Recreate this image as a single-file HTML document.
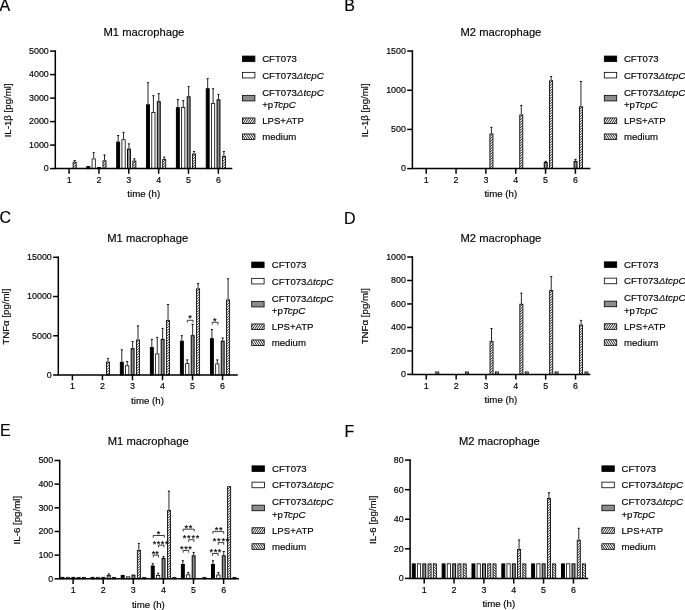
<!DOCTYPE html>
<html><head><meta charset="utf-8"><title>Figure</title>
<style>html,body{margin:0;padding:0;background:#fff}svg{display:block;will-change:transform}text{font-family:"Liberation Sans", Arial, sans-serif;fill:#000;stroke:#000;stroke-width:.16px}</style>
</head><body>
<svg width="685" height="610" viewBox="0 0 685 610">
<defs>
</defs>
<rect width="685" height="610" fill="#fff"/>
<g id="panel-A">
<path d="M74.65 161.70V160.20M73.55 160.50H75.75" stroke="#000" stroke-width="0.85" fill="none"/>
<rect x="73.12" y="162.20" width="3.05" height="6.40" fill="#fff"/>
<path d="M73.12 164.80L76.17 162.21M73.12 167.40L76.17 164.81M74.77 168.60L76.17 167.41" stroke="#000" stroke-width="0.85" fill="none"/>
<rect x="73.12" y="162.20" width="3.05" height="6.40" fill="none" stroke="#000" stroke-width="0.85"/>
<rect x="86.85" y="166.60" width="2.90" height="2.00" fill="#000" stroke="#000" stroke-width="1.0"/>
<path d="M93.70 158.50V152.40M92.60 152.70H94.80" stroke="#000" stroke-width="0.85" fill="none"/>
<rect x="92.07" y="158.90" width="3.25" height="9.70" fill="#fff" stroke="#000" stroke-width="0.8"/>
<rect x="97.65" y="167.50" width="2.90" height="1.10" fill="#8c8c8c" stroke="#000" stroke-width="1.0"/>
<path d="M104.50 160.30V154.70M103.40 155.00H105.60" stroke="#000" stroke-width="0.85" fill="none"/>
<rect x="102.97" y="160.80" width="3.05" height="7.80" fill="#fff"/>
<path d="M102.97 163.40L106.02 160.81M102.97 166.00L106.02 163.41M102.98 168.60L106.02 166.01" stroke="#000" stroke-width="0.85" fill="none"/>
<rect x="102.97" y="160.80" width="3.05" height="7.80" fill="none" stroke="#000" stroke-width="0.85"/>
<path d="M118.15 141.60V135.20M117.05 135.50H119.25" stroke="#000" stroke-width="0.85" fill="none"/>
<rect x="116.70" y="142.10" width="2.90" height="26.50" fill="#000" stroke="#000" stroke-width="1.0"/>
<path d="M123.55 139.30V132.00M122.45 132.30H124.65" stroke="#000" stroke-width="0.85" fill="none"/>
<rect x="121.93" y="139.70" width="3.25" height="28.90" fill="#fff" stroke="#000" stroke-width="0.8"/>
<path d="M128.95 148.60V143.60M127.85 143.90H130.05" stroke="#000" stroke-width="0.85" fill="none"/>
<rect x="127.50" y="149.10" width="2.90" height="19.50" fill="#8c8c8c" stroke="#000" stroke-width="1.0"/>
<path d="M134.35 160.60V158.50M133.25 158.80H135.45" stroke="#000" stroke-width="0.85" fill="none"/>
<rect x="132.83" y="161.10" width="3.05" height="7.50" fill="#fff"/>
<path d="M132.83 163.70L135.88 161.11M132.83 166.30L135.88 163.71M133.18 168.60L135.88 166.31" stroke="#000" stroke-width="0.85" fill="none"/>
<rect x="132.83" y="161.10" width="3.05" height="7.50" fill="none" stroke="#000" stroke-width="0.85"/>
<path d="M148.00 104.30V82.40M146.90 82.70H149.10" stroke="#000" stroke-width="0.85" fill="none"/>
<rect x="146.55" y="104.80" width="2.90" height="63.80" fill="#000" stroke="#000" stroke-width="1.0"/>
<path d="M153.40 112.00V95.40M152.30 95.70H154.50" stroke="#000" stroke-width="0.85" fill="none"/>
<rect x="151.78" y="112.40" width="3.25" height="56.20" fill="#fff" stroke="#000" stroke-width="0.8"/>
<path d="M158.80 101.20V93.40M157.70 93.70H159.90" stroke="#000" stroke-width="0.85" fill="none"/>
<rect x="157.35" y="101.70" width="2.90" height="66.90" fill="#8c8c8c" stroke="#000" stroke-width="1.0"/>
<path d="M164.20 159.10V156.80M163.10 157.10H165.30" stroke="#000" stroke-width="0.85" fill="none"/>
<rect x="162.68" y="159.60" width="3.05" height="9.00" fill="#fff"/>
<path d="M162.68 162.20L165.73 159.61M162.68 164.80L165.73 162.21M162.68 167.40L165.73 164.81M164.32 168.60L165.73 167.41" stroke="#000" stroke-width="0.85" fill="none"/>
<rect x="162.68" y="159.60" width="3.05" height="9.00" fill="none" stroke="#000" stroke-width="0.85"/>
<path d="M177.85 107.20V99.30M176.75 99.60H178.95" stroke="#000" stroke-width="0.85" fill="none"/>
<rect x="176.40" y="107.70" width="2.90" height="60.90" fill="#000" stroke="#000" stroke-width="1.0"/>
<path d="M183.25 107.10V100.40M182.15 100.70H184.35" stroke="#000" stroke-width="0.85" fill="none"/>
<rect x="181.62" y="107.50" width="3.25" height="61.10" fill="#fff" stroke="#000" stroke-width="0.8"/>
<path d="M188.65 96.30V86.30M187.55 86.60H189.75" stroke="#000" stroke-width="0.85" fill="none"/>
<rect x="187.20" y="96.80" width="2.90" height="71.80" fill="#8c8c8c" stroke="#000" stroke-width="1.0"/>
<path d="M194.05 153.60V151.20M192.95 151.50H195.15" stroke="#000" stroke-width="0.85" fill="none"/>
<rect x="192.53" y="154.10" width="3.05" height="14.50" fill="#fff"/>
<path d="M192.53 156.70L195.58 154.11M192.53 159.30L195.58 156.71M192.53 161.90L195.58 159.31M192.53 164.50L195.58 161.91M192.53 167.10L195.58 164.51M193.82 168.60L195.58 167.11" stroke="#000" stroke-width="0.85" fill="none"/>
<rect x="192.53" y="154.10" width="3.05" height="14.50" fill="none" stroke="#000" stroke-width="0.85"/>
<path d="M207.70 88.20V78.40M206.60 78.70H208.80" stroke="#000" stroke-width="0.85" fill="none"/>
<rect x="206.25" y="88.70" width="2.90" height="79.90" fill="#000" stroke="#000" stroke-width="1.0"/>
<path d="M213.10 103.20V88.40M212.00 88.70H214.20" stroke="#000" stroke-width="0.85" fill="none"/>
<rect x="211.47" y="103.60" width="3.25" height="65.00" fill="#fff" stroke="#000" stroke-width="0.8"/>
<path d="M218.50 99.30V94.10M217.40 94.40H219.60" stroke="#000" stroke-width="0.85" fill="none"/>
<rect x="217.05" y="99.80" width="2.90" height="68.80" fill="#8c8c8c" stroke="#000" stroke-width="1.0"/>
<path d="M223.90 155.90V151.20M222.80 151.50H225.00" stroke="#000" stroke-width="0.85" fill="none"/>
<rect x="222.38" y="156.40" width="3.05" height="12.20" fill="#fff"/>
<path d="M222.38 159.00L225.43 156.41M222.38 161.60L225.43 159.01M222.38 164.20L225.43 161.61M222.38 166.80L225.43 164.21M223.32 168.60L225.43 166.81" stroke="#000" stroke-width="0.85" fill="none"/>
<rect x="222.38" y="156.40" width="3.05" height="12.20" fill="none" stroke="#000" stroke-width="0.85"/>
<path d="M55.30 50.35V168.60H232.30" stroke="#000" stroke-width="1.5" fill="none" stroke-linejoin="miter"/>
<path d="M50.10 168.60H55.30" stroke="#000" stroke-width="1.5"/>
<text x="48.80" y="171.45" font-size="8.9" text-anchor="end" >0</text>
<path d="M50.10 145.10H55.30" stroke="#000" stroke-width="1.5"/>
<text x="48.80" y="147.95" font-size="8.9" text-anchor="end" >1000</text>
<path d="M50.10 121.60H55.30" stroke="#000" stroke-width="1.5"/>
<text x="48.80" y="124.45" font-size="8.9" text-anchor="end" >2000</text>
<path d="M50.10 98.10H55.30" stroke="#000" stroke-width="1.5"/>
<text x="48.80" y="100.95" font-size="8.9" text-anchor="end" >3000</text>
<path d="M50.10 74.60H55.30" stroke="#000" stroke-width="1.5"/>
<text x="48.80" y="77.45" font-size="8.9" text-anchor="end" >4000</text>
<path d="M50.10 51.10H55.30" stroke="#000" stroke-width="1.5"/>
<text x="48.80" y="53.95" font-size="8.9" text-anchor="end" >5000</text>
<path d="M69.10 168.60V173.80" stroke="#000" stroke-width="1.5"/>
<text x="69.10" y="182.90" font-size="8.9" text-anchor="middle" >1</text>
<path d="M98.95 168.60V173.80" stroke="#000" stroke-width="1.5"/>
<text x="98.95" y="182.90" font-size="8.9" text-anchor="middle" >2</text>
<path d="M128.80 168.60V173.80" stroke="#000" stroke-width="1.5"/>
<text x="128.80" y="182.90" font-size="8.9" text-anchor="middle" >3</text>
<path d="M158.65 168.60V173.80" stroke="#000" stroke-width="1.5"/>
<text x="158.65" y="182.90" font-size="8.9" text-anchor="middle" >4</text>
<path d="M188.50 168.60V173.80" stroke="#000" stroke-width="1.5"/>
<text x="188.50" y="182.90" font-size="8.9" text-anchor="middle" >5</text>
<path d="M218.35 168.60V173.80" stroke="#000" stroke-width="1.5"/>
<text x="218.35" y="182.90" font-size="8.9" text-anchor="middle" >6</text>
<text x="143.72" y="197.30" font-size="9.7" text-anchor="middle" >time (h)</text>
<text x="103.50" y="35.90" font-size="11.2" text-anchor="start" >M1 macrophage</text>
<text transform="translate(11.20 110.35) rotate(-90)" font-size="9.7" text-anchor="middle">IL-1β [pg/ml]</text>
<text x="-0.60" y="10.90" font-size="16" text-anchor="start" >A</text>
<rect x="242.50" y="56.05" width="12.4" height="5.6" fill="#000" stroke="#000" stroke-width="0.8"/>
<rect x="242.50" y="72.35" width="12.4" height="5.6" fill="#fff" stroke="#000" stroke-width="0.8"/>
<rect x="242.50" y="95.35" width="12.4" height="5.6" fill="#8c8c8c" stroke="#000" stroke-width="0.8"/>
<rect x="242.50" y="117.95" width="12.4" height="5.6" fill="#fff"/>
<path d="M242.50 120.77L244.38 117.95M242.93 123.55L246.66 117.95M245.21 123.55L248.94 117.95M247.49 123.55L251.22 117.95M249.77 123.55L253.50 117.95M252.05 123.55L254.90 119.27M254.33 123.55L254.90 122.69" stroke="#000" stroke-width="0.85" fill="none"/>
<rect x="242.50" y="117.95" width="12.4" height="5.6" fill="none" stroke="#000" stroke-width="0.8"/>
<rect x="242.50" y="133.95" width="12.4" height="5.6" fill="#fff"/>
<path d="M254.90 136.77L253.02 133.95M254.47 139.55L250.74 133.95M252.19 139.55L248.46 133.95M249.91 139.55L246.18 133.95M247.63 139.55L243.90 133.95M245.35 139.55L242.50 135.27M243.07 139.55L242.50 138.69" stroke="#000" stroke-width="0.85" fill="none"/>
<rect x="242.50" y="133.95" width="12.4" height="5.6" fill="none" stroke="#000" stroke-width="0.8"/>
<text x="262.20" y="62.20" font-size="9.6" text-anchor="start" >CFT073</text>
<text x="262.20" y="78.50" font-size="9.6" text-anchor="start" >CFT073<tspan font-style="italic" font-size="9.9"><tspan fill="#444">Δ</tspan>tcpC</tspan></text>
<text x="262.20" y="95.50" font-size="9.6" text-anchor="start" >CFT073<tspan font-style="italic" font-size="9.9"><tspan fill="#444">Δ</tspan>tcpC</tspan></text>
<text x="262.20" y="107.70" font-size="9.6" text-anchor="start" >+p<tspan font-style="italic" font-size="9.9">TcpC</tspan></text>
<text x="262.20" y="124.10" font-size="9.6" text-anchor="start" >LPS+ATP</text>
<text x="262.20" y="140.10" font-size="9.6" text-anchor="start" >medium</text>
</g>
<g id="panel-B">
<path d="M491.43 133.40V127.00M490.33 127.30H492.53" stroke="#000" stroke-width="0.85" fill="none"/>
<rect x="489.90" y="133.90" width="3.05" height="34.70" fill="#fff"/>
<path d="M489.90 136.50L492.95 133.91M489.90 139.10L492.95 136.51M489.90 141.70L492.95 139.11M489.90 144.30L492.95 141.71M489.90 146.90L492.95 144.31M489.90 149.50L492.95 146.91M489.90 152.10L492.95 149.51M489.90 154.70L492.95 152.11M489.90 157.30L492.95 154.71M489.90 159.90L492.95 157.31M489.90 162.50L492.95 159.91M489.90 165.10L492.95 162.51M489.90 167.70L492.95 165.11M491.90 168.60L492.95 167.71" stroke="#000" stroke-width="0.85" fill="none"/>
<rect x="489.90" y="133.90" width="3.05" height="34.70" fill="none" stroke="#000" stroke-width="0.85"/>
<path d="M521.27 114.50V105.10M520.17 105.40H522.37" stroke="#000" stroke-width="0.85" fill="none"/>
<rect x="519.75" y="115.00" width="3.05" height="53.60" fill="#fff"/>
<path d="M519.75 117.60L522.79 115.01M519.75 120.20L522.79 117.61M519.75 122.80L522.79 120.21M519.75 125.40L522.79 122.81M519.75 128.00L522.79 125.41M519.75 130.60L522.79 128.01M519.75 133.20L522.79 130.61M519.75 135.80L522.79 133.21M519.75 138.40L522.79 135.81M519.75 141.00L522.79 138.41M519.75 143.60L522.79 141.01M519.75 146.20L522.79 143.61M519.75 148.80L522.79 146.21M519.75 151.40L522.79 148.81M519.75 154.00L522.79 151.41M519.75 156.60L522.79 154.01M519.75 159.20L522.79 156.61M519.75 161.80L522.79 159.21M519.75 164.40L522.79 161.81M519.75 167.00L522.79 164.41M520.92 168.60L522.79 167.01" stroke="#000" stroke-width="0.85" fill="none"/>
<rect x="519.75" y="115.00" width="3.05" height="53.60" fill="none" stroke="#000" stroke-width="0.85"/>
<path d="M545.71 162.00V161.00M544.61 161.30H546.81" stroke="#000" stroke-width="0.85" fill="none"/>
<rect x="544.26" y="162.50" width="2.90" height="6.10" fill="#8c8c8c" stroke="#000" stroke-width="1.0"/>
<path d="M551.11 80.30V76.20M550.01 76.50H552.21" stroke="#000" stroke-width="0.85" fill="none"/>
<rect x="549.58" y="80.80" width="3.05" height="87.80" fill="#fff"/>
<path d="M549.58 83.40L552.63 80.81M549.58 86.00L552.63 83.41M549.58 88.60L552.63 86.01M549.58 91.20L552.63 88.61M549.58 93.80L552.63 91.21M549.58 96.40L552.63 93.81M549.58 99.00L552.63 96.41M549.58 101.60L552.63 99.01M549.58 104.20L552.63 101.61M549.58 106.80L552.63 104.21M549.58 109.40L552.63 106.81M549.58 112.00L552.63 109.41M549.58 114.60L552.63 112.01M549.58 117.20L552.63 114.61M549.58 119.80L552.63 117.21M549.58 122.40L552.63 119.81M549.58 125.00L552.63 122.41M549.58 127.60L552.63 125.01M549.58 130.20L552.63 127.61M549.58 132.80L552.63 130.21M549.58 135.40L552.63 132.81M549.58 138.00L552.63 135.41M549.58 140.60L552.63 138.01M549.58 143.20L552.63 140.61M549.58 145.80L552.63 143.21M549.58 148.40L552.63 145.81M549.58 151.00L552.63 148.41M549.58 153.60L552.63 151.01M549.58 156.20L552.63 153.61M549.58 158.80L552.63 156.21M549.58 161.40L552.63 158.81M549.58 164.00L552.63 161.41M549.58 166.60L552.63 164.01M550.29 168.60L552.63 166.61" stroke="#000" stroke-width="0.85" fill="none"/>
<rect x="549.58" y="80.80" width="3.05" height="87.80" fill="none" stroke="#000" stroke-width="0.85"/>
<path d="M575.55 160.90V159.10M574.45 159.40H576.65" stroke="#000" stroke-width="0.85" fill="none"/>
<rect x="574.10" y="161.40" width="2.90" height="7.20" fill="#8c8c8c" stroke="#000" stroke-width="1.0"/>
<path d="M580.95 106.30V81.20M579.85 81.50H582.05" stroke="#000" stroke-width="0.85" fill="none"/>
<rect x="579.42" y="106.80" width="3.05" height="61.80" fill="#fff"/>
<path d="M579.42 109.40L582.47 106.81M579.42 112.00L582.47 109.41M579.42 114.60L582.47 112.01M579.42 117.20L582.47 114.61M579.42 119.80L582.47 117.21M579.42 122.40L582.47 119.81M579.42 125.00L582.47 122.41M579.42 127.60L582.47 125.01M579.42 130.20L582.47 127.61M579.42 132.80L582.47 130.21M579.42 135.40L582.47 132.81M579.42 138.00L582.47 135.41M579.42 140.60L582.47 138.01M579.42 143.20L582.47 140.61M579.42 145.80L582.47 143.21M579.42 148.40L582.47 145.81M579.42 151.00L582.47 148.41M579.42 153.60L582.47 151.01M579.42 156.20L582.47 153.61M579.42 158.80L582.47 156.21M579.42 161.40L582.47 158.81M579.42 164.00L582.47 161.41M579.42 166.60L582.47 164.01M580.13 168.60L582.47 166.61" stroke="#000" stroke-width="0.85" fill="none"/>
<rect x="579.42" y="106.80" width="3.05" height="61.80" fill="none" stroke="#000" stroke-width="0.85"/>
<path d="M412.40 50.35V168.60H590.40" stroke="#000" stroke-width="1.5" fill="none" stroke-linejoin="miter"/>
<path d="M407.20 168.60H412.40" stroke="#000" stroke-width="1.5"/>
<text x="405.90" y="171.45" font-size="8.9" text-anchor="end" >0</text>
<path d="M407.20 129.43H412.40" stroke="#000" stroke-width="1.5"/>
<text x="405.90" y="132.28" font-size="8.9" text-anchor="end" >500</text>
<path d="M407.20 90.27H412.40" stroke="#000" stroke-width="1.5"/>
<text x="405.90" y="93.12" font-size="8.9" text-anchor="end" >1000</text>
<path d="M407.20 51.10H412.40" stroke="#000" stroke-width="1.5"/>
<text x="405.90" y="53.95" font-size="8.9" text-anchor="end" >1500</text>
<path d="M426.20 168.60V173.80" stroke="#000" stroke-width="1.5"/>
<text x="426.20" y="182.90" font-size="8.9" text-anchor="middle" >1</text>
<path d="M456.04 168.60V173.80" stroke="#000" stroke-width="1.5"/>
<text x="456.04" y="182.90" font-size="8.9" text-anchor="middle" >2</text>
<path d="M485.88 168.60V173.80" stroke="#000" stroke-width="1.5"/>
<text x="485.88" y="182.90" font-size="8.9" text-anchor="middle" >3</text>
<path d="M515.72 168.60V173.80" stroke="#000" stroke-width="1.5"/>
<text x="515.72" y="182.90" font-size="8.9" text-anchor="middle" >4</text>
<path d="M545.56 168.60V173.80" stroke="#000" stroke-width="1.5"/>
<text x="545.56" y="182.90" font-size="8.9" text-anchor="middle" >5</text>
<path d="M575.40 168.60V173.80" stroke="#000" stroke-width="1.5"/>
<text x="575.40" y="182.90" font-size="8.9" text-anchor="middle" >6</text>
<text x="500.80" y="197.30" font-size="9.7" text-anchor="middle" >time (h)</text>
<text x="460.50" y="35.90" font-size="11.2" text-anchor="start" >M2 macrophage</text>
<text transform="translate(368.10 110.35) rotate(-90)" font-size="9.7" text-anchor="middle">IL-1β [pg/ml]</text>
<text x="344.20" y="11.00" font-size="16" text-anchor="start" >B</text>
<rect x="604.30" y="56.05" width="12.4" height="5.6" fill="#000" stroke="#000" stroke-width="0.8"/>
<rect x="604.30" y="72.35" width="12.4" height="5.6" fill="#fff" stroke="#000" stroke-width="0.8"/>
<rect x="604.30" y="95.35" width="12.4" height="5.6" fill="#8c8c8c" stroke="#000" stroke-width="0.8"/>
<rect x="604.30" y="117.95" width="12.4" height="5.6" fill="#fff"/>
<path d="M604.30 120.77L606.18 117.95M604.73 123.55L608.46 117.95M607.01 123.55L610.74 117.95M609.29 123.55L613.02 117.95M611.57 123.55L615.30 117.95M613.85 123.55L616.70 119.27M616.13 123.55L616.70 122.69" stroke="#000" stroke-width="0.85" fill="none"/>
<rect x="604.30" y="117.95" width="12.4" height="5.6" fill="none" stroke="#000" stroke-width="0.8"/>
<rect x="604.30" y="133.95" width="12.4" height="5.6" fill="#fff"/>
<path d="M616.70 136.77L614.82 133.95M616.27 139.55L612.54 133.95M613.99 139.55L610.26 133.95M611.71 139.55L607.98 133.95M609.43 139.55L605.70 133.95M607.15 139.55L604.30 135.27M604.87 139.55L604.30 138.69" stroke="#000" stroke-width="0.85" fill="none"/>
<rect x="604.30" y="133.95" width="12.4" height="5.6" fill="none" stroke="#000" stroke-width="0.8"/>
<text x="623.90" y="62.20" font-size="9.6" text-anchor="start" >CFT073</text>
<text x="623.90" y="78.50" font-size="9.6" text-anchor="start" >CFT073<tspan font-style="italic" font-size="9.9"><tspan fill="#444">Δ</tspan>tcpC</tspan></text>
<text x="623.90" y="95.50" font-size="9.6" text-anchor="start" >CFT073<tspan font-style="italic" font-size="9.9"><tspan fill="#444">Δ</tspan>tcpC</tspan></text>
<text x="623.90" y="107.70" font-size="9.6" text-anchor="start" >+p<tspan font-style="italic" font-size="9.9">TcpC</tspan></text>
<text x="623.90" y="124.10" font-size="9.6" text-anchor="start" >LPS+ATP</text>
<text x="623.90" y="140.10" font-size="9.6" text-anchor="start" >medium</text>
</g>
<g id="panel-C">
<path d="M107.98 361.60V358.30M106.88 358.60H109.08" stroke="#000" stroke-width="0.85" fill="none"/>
<rect x="106.46" y="362.10" width="3.05" height="12.90" fill="#fff"/>
<path d="M106.46 364.70L109.51 362.11M106.46 367.30L109.51 364.71M106.46 369.90L109.51 367.31M106.46 372.50L109.51 369.91M106.57 375.00L109.51 372.51" stroke="#000" stroke-width="0.85" fill="none"/>
<rect x="106.46" y="362.10" width="3.05" height="12.90" fill="none" stroke="#000" stroke-width="0.85"/>
<path d="M121.81 361.80V349.50M120.71 349.80H122.91" stroke="#000" stroke-width="0.85" fill="none"/>
<rect x="120.36" y="362.30" width="2.90" height="12.70" fill="#000" stroke="#000" stroke-width="1.0"/>
<path d="M127.21 365.40V361.20M126.11 361.50H128.31" stroke="#000" stroke-width="0.85" fill="none"/>
<rect x="125.59" y="365.80" width="3.25" height="9.20" fill="#fff" stroke="#000" stroke-width="0.8"/>
<path d="M132.61 348.20V341.30M131.51 341.60H133.71" stroke="#000" stroke-width="0.85" fill="none"/>
<rect x="131.16" y="348.70" width="2.90" height="26.30" fill="#8c8c8c" stroke="#000" stroke-width="1.0"/>
<path d="M138.01 339.50V325.60M136.91 325.90H139.11" stroke="#000" stroke-width="0.85" fill="none"/>
<rect x="136.49" y="340.00" width="3.05" height="35.00" fill="#fff"/>
<path d="M136.49 342.60L139.54 340.01M136.49 345.20L139.54 342.61M136.49 347.80L139.54 345.21M136.49 350.40L139.54 347.81M136.49 353.00L139.54 350.41M136.49 355.60L139.54 353.01M136.49 358.20L139.54 355.61M136.49 360.80L139.54 358.21M136.49 363.40L139.54 360.81M136.49 366.00L139.54 363.41M136.49 368.60L139.54 366.01M136.49 371.20L139.54 368.61M136.49 373.80L139.54 371.21M138.13 375.00L139.54 373.81" stroke="#000" stroke-width="0.85" fill="none"/>
<rect x="136.49" y="340.00" width="3.05" height="35.00" fill="none" stroke="#000" stroke-width="0.85"/>
<path d="M151.84 347.10V339.10M150.74 339.40H152.94" stroke="#000" stroke-width="0.85" fill="none"/>
<rect x="150.39" y="347.60" width="2.90" height="27.40" fill="#000" stroke="#000" stroke-width="1.0"/>
<path d="M157.24 353.50V337.10M156.14 337.40H158.34" stroke="#000" stroke-width="0.85" fill="none"/>
<rect x="155.62" y="353.90" width="3.25" height="21.10" fill="#fff" stroke="#000" stroke-width="0.8"/>
<path d="M162.64 338.90V328.10M161.54 328.40H163.74" stroke="#000" stroke-width="0.85" fill="none"/>
<rect x="161.19" y="339.40" width="2.90" height="35.60" fill="#8c8c8c" stroke="#000" stroke-width="1.0"/>
<path d="M168.04 320.10V304.20M166.94 304.50H169.14" stroke="#000" stroke-width="0.85" fill="none"/>
<rect x="166.52" y="320.60" width="3.05" height="54.40" fill="#fff"/>
<path d="M166.52 323.20L169.57 320.61M166.52 325.80L169.57 323.21M166.52 328.40L169.57 325.81M166.52 331.00L169.57 328.41M166.52 333.60L169.57 331.01M166.52 336.20L169.57 333.61M166.52 338.80L169.57 336.21M166.52 341.40L169.57 338.81M166.52 344.00L169.57 341.41M166.52 346.60L169.57 344.01M166.52 349.20L169.57 346.61M166.52 351.80L169.57 349.21M166.52 354.40L169.57 351.81M166.52 357.00L169.57 354.41M166.52 359.60L169.57 357.01M166.52 362.20L169.57 359.61M166.52 364.80L169.57 362.21M166.52 367.40L169.57 364.81M166.52 370.00L169.57 367.41M166.52 372.60L169.57 370.01M166.75 375.00L169.57 372.61" stroke="#000" stroke-width="0.85" fill="none"/>
<rect x="166.52" y="320.60" width="3.05" height="54.40" fill="none" stroke="#000" stroke-width="0.85"/>
<path d="M181.87 340.70V335.40M180.77 335.70H182.97" stroke="#000" stroke-width="0.85" fill="none"/>
<rect x="180.42" y="341.20" width="2.90" height="33.80" fill="#000" stroke="#000" stroke-width="1.0"/>
<path d="M187.27 363.20V359.60M186.17 359.90H188.37" stroke="#000" stroke-width="0.85" fill="none"/>
<rect x="185.65" y="363.60" width="3.25" height="11.40" fill="#fff" stroke="#000" stroke-width="0.8"/>
<path d="M192.67 335.20V324.00M191.57 324.30H193.77" stroke="#000" stroke-width="0.85" fill="none"/>
<rect x="191.22" y="335.70" width="2.90" height="39.30" fill="#8c8c8c" stroke="#000" stroke-width="1.0"/>
<path d="M198.07 288.40V283.10M196.97 283.40H199.17" stroke="#000" stroke-width="0.85" fill="none"/>
<rect x="196.55" y="288.90" width="3.05" height="86.10" fill="#fff"/>
<path d="M196.55 291.50L199.60 288.91M196.55 294.10L199.60 291.51M196.55 296.70L199.60 294.11M196.55 299.30L199.60 296.71M196.55 301.90L199.60 299.31M196.55 304.50L199.60 301.91M196.55 307.10L199.60 304.51M196.55 309.70L199.60 307.11M196.55 312.30L199.60 309.71M196.55 314.90L199.60 312.31M196.55 317.50L199.60 314.91M196.55 320.10L199.60 317.51M196.55 322.70L199.60 320.11M196.55 325.30L199.60 322.71M196.55 327.90L199.60 325.31M196.55 330.50L199.60 327.91M196.55 333.10L199.60 330.51M196.55 335.70L199.60 333.11M196.55 338.30L199.60 335.71M196.55 340.90L199.60 338.31M196.55 343.50L199.60 340.91M196.55 346.10L199.60 343.51M196.55 348.70L199.60 346.11M196.55 351.30L199.60 348.71M196.55 353.90L199.60 351.31M196.55 356.50L199.60 353.91M196.55 359.10L199.60 356.51M196.55 361.70L199.60 359.11M196.55 364.30L199.60 361.71M196.55 366.90L199.60 364.31M196.55 369.50L199.60 366.91M196.55 372.10L199.60 369.51M196.55 374.70L199.60 372.11M199.25 375.00L199.60 374.71" stroke="#000" stroke-width="0.85" fill="none"/>
<rect x="196.55" y="288.90" width="3.05" height="86.10" fill="none" stroke="#000" stroke-width="0.85"/>
<path d="M211.90 338.20V329.20M210.80 329.50H213.00" stroke="#000" stroke-width="0.85" fill="none"/>
<rect x="210.45" y="338.70" width="2.90" height="36.30" fill="#000" stroke="#000" stroke-width="1.0"/>
<path d="M217.30 363.50V359.60M216.20 359.90H218.40" stroke="#000" stroke-width="0.85" fill="none"/>
<rect x="215.68" y="363.90" width="3.25" height="11.10" fill="#fff" stroke="#000" stroke-width="0.8"/>
<path d="M222.70 340.70V337.70M221.60 338.00H223.80" stroke="#000" stroke-width="0.85" fill="none"/>
<rect x="221.25" y="341.20" width="2.90" height="33.80" fill="#8c8c8c" stroke="#000" stroke-width="1.0"/>
<path d="M228.10 299.40V278.50M227.00 278.80H229.20" stroke="#000" stroke-width="0.85" fill="none"/>
<rect x="226.58" y="299.90" width="3.05" height="75.10" fill="#fff"/>
<path d="M226.58 302.50L229.63 299.91M226.58 305.10L229.63 302.51M226.58 307.70L229.63 305.11M226.58 310.30L229.63 307.71M226.58 312.90L229.63 310.31M226.58 315.50L229.63 312.91M226.58 318.10L229.63 315.51M226.58 320.70L229.63 318.11M226.58 323.30L229.63 320.71M226.58 325.90L229.63 323.31M226.58 328.50L229.63 325.91M226.58 331.10L229.63 328.51M226.58 333.70L229.63 331.11M226.58 336.30L229.63 333.71M226.58 338.90L229.63 336.31M226.58 341.50L229.63 338.91M226.58 344.10L229.63 341.51M226.58 346.70L229.63 344.11M226.58 349.30L229.63 346.71M226.58 351.90L229.63 349.31M226.58 354.50L229.63 351.91M226.58 357.10L229.63 354.51M226.58 359.70L229.63 357.11M226.58 362.30L229.63 359.71M226.58 364.90L229.63 362.31M226.58 367.50L229.63 364.91M226.58 370.10L229.63 367.51M226.58 372.70L229.63 370.11M226.93 375.00L229.63 372.71" stroke="#000" stroke-width="0.85" fill="none"/>
<rect x="226.58" y="299.90" width="3.05" height="75.10" fill="none" stroke="#000" stroke-width="0.85"/>
<path d="M58.30 256.55V375.00H237.80" stroke="#000" stroke-width="1.5" fill="none" stroke-linejoin="miter"/>
<path d="M53.10 375.00H58.30" stroke="#000" stroke-width="1.5"/>
<text x="51.80" y="377.85" font-size="8.9" text-anchor="end" >0</text>
<path d="M53.10 335.77H58.30" stroke="#000" stroke-width="1.5"/>
<text x="51.80" y="338.62" font-size="8.9" text-anchor="end" >5000</text>
<path d="M53.10 296.53H58.30" stroke="#000" stroke-width="1.5"/>
<text x="51.80" y="299.38" font-size="8.9" text-anchor="end" >10000</text>
<path d="M53.10 257.30H58.30" stroke="#000" stroke-width="1.5"/>
<text x="51.80" y="260.15" font-size="8.9" text-anchor="end" >15000</text>
<path d="M72.40 375.00V380.20" stroke="#000" stroke-width="1.5"/>
<text x="72.40" y="389.30" font-size="8.9" text-anchor="middle" >1</text>
<path d="M102.43 375.00V380.20" stroke="#000" stroke-width="1.5"/>
<text x="102.43" y="389.30" font-size="8.9" text-anchor="middle" >2</text>
<path d="M132.46 375.00V380.20" stroke="#000" stroke-width="1.5"/>
<text x="132.46" y="389.30" font-size="8.9" text-anchor="middle" >3</text>
<path d="M162.49 375.00V380.20" stroke="#000" stroke-width="1.5"/>
<text x="162.49" y="389.30" font-size="8.9" text-anchor="middle" >4</text>
<path d="M192.52 375.00V380.20" stroke="#000" stroke-width="1.5"/>
<text x="192.52" y="389.30" font-size="8.9" text-anchor="middle" >5</text>
<path d="M222.55 375.00V380.20" stroke="#000" stroke-width="1.5"/>
<text x="222.55" y="389.30" font-size="8.9" text-anchor="middle" >6</text>
<text x="147.48" y="403.70" font-size="9.7" text-anchor="middle" >time (h)</text>
<text x="107.30" y="241.90" font-size="11.2" text-anchor="start" >M1 macrophage</text>
<text transform="translate(8.80 316.65) rotate(-90)" font-size="9.7" text-anchor="middle">TNFα [pg/ml]</text>
<text x="-0.40" y="223.20" font-size="16" text-anchor="start" >C</text>
<rect x="251.70" y="262.05" width="12.4" height="5.6" fill="#000" stroke="#000" stroke-width="0.8"/>
<rect x="251.70" y="278.35" width="12.4" height="5.6" fill="#fff" stroke="#000" stroke-width="0.8"/>
<rect x="251.70" y="301.35" width="12.4" height="5.6" fill="#8c8c8c" stroke="#000" stroke-width="0.8"/>
<rect x="251.70" y="323.95" width="12.4" height="5.6" fill="#fff"/>
<path d="M251.70 326.77L253.58 323.95M252.13 329.55L255.86 323.95M254.41 329.55L258.14 323.95M256.69 329.55L260.42 323.95M258.97 329.55L262.70 323.95M261.25 329.55L264.10 325.27M263.53 329.55L264.10 328.69" stroke="#000" stroke-width="0.85" fill="none"/>
<rect x="251.70" y="323.95" width="12.4" height="5.6" fill="none" stroke="#000" stroke-width="0.8"/>
<rect x="251.70" y="339.95" width="12.4" height="5.6" fill="#fff"/>
<path d="M264.10 342.77L262.22 339.95M263.67 345.55L259.94 339.95M261.39 345.55L257.66 339.95M259.11 345.55L255.38 339.95M256.83 345.55L253.10 339.95M254.55 345.55L251.70 341.27M252.27 345.55L251.70 344.69" stroke="#000" stroke-width="0.85" fill="none"/>
<rect x="251.70" y="339.95" width="12.4" height="5.6" fill="none" stroke="#000" stroke-width="0.8"/>
<text x="271.80" y="268.20" font-size="9.6" text-anchor="start" >CFT073</text>
<text x="271.80" y="284.50" font-size="9.6" text-anchor="start" >CFT073<tspan font-style="italic" font-size="9.9"><tspan fill="#444">Δ</tspan>tcpC</tspan></text>
<text x="271.80" y="301.50" font-size="9.6" text-anchor="start" >CFT073<tspan font-style="italic" font-size="9.9"><tspan fill="#444">Δ</tspan>tcpC</tspan></text>
<text x="271.80" y="313.70" font-size="9.6" text-anchor="start" >+p<tspan font-style="italic" font-size="9.9">TcpC</tspan></text>
<text x="271.80" y="330.10" font-size="9.6" text-anchor="start" >LPS+ATP</text>
<text x="271.80" y="346.10" font-size="9.6" text-anchor="start" >medium</text>
<path d="M187.30 322.60V320.30H193.10V322.60" stroke="#000" stroke-width="0.75" fill="none"/>
<text x="190.00" y="321.46" font-size="9.2" text-anchor="middle" stroke="#000" stroke-width="0.25">*</text>
<path d="M212.20 324.60V322.30H218.00V324.60" stroke="#000" stroke-width="0.75" fill="none"/>
<text x="214.70" y="323.66" font-size="9.2" text-anchor="middle" stroke="#000" stroke-width="0.25">*</text>
</g>
<g id="panel-D">
<rect x="435.73" y="372.00" width="3.05" height="2.40" fill="#fff"/>
<path d="M438.54 374.40L435.73 372.01" stroke="#000" stroke-width="0.85" fill="none"/>
<rect x="435.73" y="372.00" width="3.05" height="2.40" fill="none" stroke="#000" stroke-width="0.85"/>
<rect x="465.56" y="372.00" width="3.05" height="2.40" fill="#fff"/>
<path d="M468.38 374.40L465.56 372.01" stroke="#000" stroke-width="0.85" fill="none"/>
<rect x="465.56" y="372.00" width="3.05" height="2.40" fill="none" stroke="#000" stroke-width="0.85"/>
<path d="M491.53 341.10V328.20M490.43 328.50H492.63" stroke="#000" stroke-width="0.85" fill="none"/>
<rect x="490.00" y="341.60" width="3.05" height="32.80" fill="#fff"/>
<path d="M490.00 344.20L493.06 341.61M490.00 346.80L493.06 344.21M490.00 349.40L493.06 346.81M490.00 352.00L493.06 349.41M490.00 354.60L493.06 352.01M490.00 357.20L493.06 354.61M490.00 359.80L493.06 357.21M490.00 362.40L493.06 359.81M490.00 365.00L493.06 362.41M490.00 367.60L493.06 365.01M490.00 370.20L493.06 367.61M490.00 372.80L493.06 370.21M491.18 374.40L493.06 372.81" stroke="#000" stroke-width="0.85" fill="none"/>
<rect x="490.00" y="341.60" width="3.05" height="32.80" fill="none" stroke="#000" stroke-width="0.85"/>
<rect x="495.41" y="372.00" width="3.05" height="2.40" fill="#fff"/>
<path d="M498.22 374.40L495.41 372.01" stroke="#000" stroke-width="0.85" fill="none"/>
<rect x="495.41" y="372.00" width="3.05" height="2.40" fill="none" stroke="#000" stroke-width="0.85"/>
<path d="M521.37 303.70V292.90M520.27 293.20H522.47" stroke="#000" stroke-width="0.85" fill="none"/>
<rect x="519.85" y="304.20" width="3.05" height="70.20" fill="#fff"/>
<path d="M519.85 306.80L522.89 304.21M519.85 309.40L522.89 306.81M519.85 312.00L522.89 309.41M519.85 314.60L522.89 312.01M519.85 317.20L522.89 314.61M519.85 319.80L522.89 317.21M519.85 322.40L522.89 319.81M519.85 325.00L522.89 322.41M519.85 327.60L522.89 325.01M519.85 330.20L522.89 327.61M519.85 332.80L522.89 330.21M519.85 335.40L522.89 332.81M519.85 338.00L522.89 335.41M519.85 340.60L522.89 338.01M519.85 343.20L522.89 340.61M519.85 345.80L522.89 343.21M519.85 348.40L522.89 345.81M519.85 351.00L522.89 348.41M519.85 353.60L522.89 351.01M519.85 356.20L522.89 353.61M519.85 358.80L522.89 356.21M519.85 361.40L522.89 358.81M519.85 364.00L522.89 361.41M519.85 366.60L522.89 364.01M519.85 369.20L522.89 366.61M519.85 371.80L522.89 369.21M519.85 374.40L522.89 371.81" stroke="#000" stroke-width="0.85" fill="none"/>
<rect x="519.85" y="304.20" width="3.05" height="70.20" fill="none" stroke="#000" stroke-width="0.85"/>
<rect x="525.25" y="372.00" width="3.05" height="2.40" fill="#fff"/>
<path d="M528.06 374.40L525.25 372.01" stroke="#000" stroke-width="0.85" fill="none"/>
<rect x="525.25" y="372.00" width="3.05" height="2.40" fill="none" stroke="#000" stroke-width="0.85"/>
<path d="M551.21 290.00V276.30M550.11 276.60H552.31" stroke="#000" stroke-width="0.85" fill="none"/>
<rect x="549.68" y="290.50" width="3.05" height="83.90" fill="#fff"/>
<path d="M549.68 293.10L552.73 290.51M549.68 295.70L552.73 293.11M549.68 298.30L552.73 295.71M549.68 300.90L552.73 298.31M549.68 303.50L552.73 300.91M549.68 306.10L552.73 303.51M549.68 308.70L552.73 306.11M549.68 311.30L552.73 308.71M549.68 313.90L552.73 311.31M549.68 316.50L552.73 313.91M549.68 319.10L552.73 316.51M549.68 321.70L552.73 319.11M549.68 324.30L552.73 321.71M549.68 326.90L552.73 324.31M549.68 329.50L552.73 326.91M549.68 332.10L552.73 329.51M549.68 334.70L552.73 332.11M549.68 337.30L552.73 334.71M549.68 339.90L552.73 337.31M549.68 342.50L552.73 339.91M549.68 345.10L552.73 342.51M549.68 347.70L552.73 345.11M549.68 350.30L552.73 347.71M549.68 352.90L552.73 350.31M549.68 355.50L552.73 352.91M549.68 358.10L552.73 355.51M549.68 360.70L552.73 358.11M549.68 363.30L552.73 360.71M549.68 365.90L552.73 363.31M549.68 368.50L552.73 365.91M549.68 371.10L552.73 368.51M549.68 373.70L552.73 371.11M551.92 374.40L552.73 373.71" stroke="#000" stroke-width="0.85" fill="none"/>
<rect x="549.68" y="290.50" width="3.05" height="83.90" fill="none" stroke="#000" stroke-width="0.85"/>
<rect x="555.08" y="372.00" width="3.05" height="2.40" fill="#fff"/>
<path d="M557.90 374.40L555.08 372.01" stroke="#000" stroke-width="0.85" fill="none"/>
<rect x="555.08" y="372.00" width="3.05" height="2.40" fill="none" stroke="#000" stroke-width="0.85"/>
<path d="M581.05 324.50V320.10M579.95 320.40H582.15" stroke="#000" stroke-width="0.85" fill="none"/>
<rect x="579.52" y="325.00" width="3.05" height="49.40" fill="#fff"/>
<path d="M579.52 327.60L582.57 325.01M579.52 330.20L582.57 327.61M579.52 332.80L582.57 330.21M579.52 335.40L582.57 332.81M579.52 338.00L582.57 335.41M579.52 340.60L582.57 338.01M579.52 343.20L582.57 340.61M579.52 345.80L582.57 343.21M579.52 348.40L582.57 345.81M579.52 351.00L582.57 348.41M579.52 353.60L582.57 351.01M579.52 356.20L582.57 353.61M579.52 358.80L582.57 356.21M579.52 361.40L582.57 358.81M579.52 364.00L582.57 361.41M579.52 366.60L582.57 364.01M579.52 369.20L582.57 366.61M579.52 371.80L582.57 369.21M579.52 374.40L582.57 371.81" stroke="#000" stroke-width="0.85" fill="none"/>
<rect x="579.52" y="325.00" width="3.05" height="49.40" fill="none" stroke="#000" stroke-width="0.85"/>
<rect x="584.92" y="372.00" width="3.05" height="2.40" fill="#fff"/>
<path d="M587.74 374.40L584.92 372.01" stroke="#000" stroke-width="0.85" fill="none"/>
<rect x="584.92" y="372.00" width="3.05" height="2.40" fill="none" stroke="#000" stroke-width="0.85"/>
<path d="M412.40 256.25V374.40H590.40" stroke="#000" stroke-width="1.5" fill="none" stroke-linejoin="miter"/>
<path d="M407.20 374.40H412.40" stroke="#000" stroke-width="1.5"/>
<text x="405.90" y="377.25" font-size="8.9" text-anchor="end" >0</text>
<path d="M407.20 350.92H412.40" stroke="#000" stroke-width="1.5"/>
<text x="405.90" y="353.77" font-size="8.9" text-anchor="end" >200</text>
<path d="M407.20 327.44H412.40" stroke="#000" stroke-width="1.5"/>
<text x="405.90" y="330.29" font-size="8.9" text-anchor="end" >400</text>
<path d="M407.20 303.96H412.40" stroke="#000" stroke-width="1.5"/>
<text x="405.90" y="306.81" font-size="8.9" text-anchor="end" >600</text>
<path d="M407.20 280.48H412.40" stroke="#000" stroke-width="1.5"/>
<text x="405.90" y="283.33" font-size="8.9" text-anchor="end" >800</text>
<path d="M407.20 257.00H412.40" stroke="#000" stroke-width="1.5"/>
<text x="405.90" y="259.85" font-size="8.9" text-anchor="end" >1000</text>
<path d="M426.30 374.40V379.60" stroke="#000" stroke-width="1.5"/>
<text x="426.30" y="388.70" font-size="8.9" text-anchor="middle" >1</text>
<path d="M456.14 374.40V379.60" stroke="#000" stroke-width="1.5"/>
<text x="456.14" y="388.70" font-size="8.9" text-anchor="middle" >2</text>
<path d="M485.98 374.40V379.60" stroke="#000" stroke-width="1.5"/>
<text x="485.98" y="388.70" font-size="8.9" text-anchor="middle" >3</text>
<path d="M515.82 374.40V379.60" stroke="#000" stroke-width="1.5"/>
<text x="515.82" y="388.70" font-size="8.9" text-anchor="middle" >4</text>
<path d="M545.66 374.40V379.60" stroke="#000" stroke-width="1.5"/>
<text x="545.66" y="388.70" font-size="8.9" text-anchor="middle" >5</text>
<path d="M575.50 374.40V379.60" stroke="#000" stroke-width="1.5"/>
<text x="575.50" y="388.70" font-size="8.9" text-anchor="middle" >6</text>
<text x="500.90" y="403.10" font-size="9.7" text-anchor="middle" >time (h)</text>
<text x="460.50" y="241.50" font-size="11.2" text-anchor="start" >M2 macrophage</text>
<text transform="translate(368.20 316.20) rotate(-90)" font-size="9.7" text-anchor="middle">TNFα [pg/ml]</text>
<text x="344.00" y="223.70" font-size="16" text-anchor="start" >D</text>
<rect x="604.30" y="261.85" width="12.4" height="5.6" fill="#000" stroke="#000" stroke-width="0.8"/>
<rect x="604.30" y="278.15" width="12.4" height="5.6" fill="#fff" stroke="#000" stroke-width="0.8"/>
<rect x="604.30" y="301.15" width="12.4" height="5.6" fill="#8c8c8c" stroke="#000" stroke-width="0.8"/>
<rect x="604.30" y="323.75" width="12.4" height="5.6" fill="#fff"/>
<path d="M604.30 326.57L606.18 323.75M604.73 329.35L608.46 323.75M607.01 329.35L610.74 323.75M609.29 329.35L613.02 323.75M611.57 329.35L615.30 323.75M613.85 329.35L616.70 325.07M616.13 329.35L616.70 328.49" stroke="#000" stroke-width="0.85" fill="none"/>
<rect x="604.30" y="323.75" width="12.4" height="5.6" fill="none" stroke="#000" stroke-width="0.8"/>
<rect x="604.30" y="339.75" width="12.4" height="5.6" fill="#fff"/>
<path d="M616.70 342.57L614.82 339.75M616.27 345.35L612.54 339.75M613.99 345.35L610.26 339.75M611.71 345.35L607.98 339.75M609.43 345.35L605.70 339.75M607.15 345.35L604.30 341.07M604.87 345.35L604.30 344.49" stroke="#000" stroke-width="0.85" fill="none"/>
<rect x="604.30" y="339.75" width="12.4" height="5.6" fill="none" stroke="#000" stroke-width="0.8"/>
<text x="624.00" y="268.00" font-size="9.6" text-anchor="start" >CFT073</text>
<text x="624.00" y="284.30" font-size="9.6" text-anchor="start" >CFT073<tspan font-style="italic" font-size="9.9"><tspan fill="#444">Δ</tspan>tcpC</tspan></text>
<text x="624.00" y="301.30" font-size="9.6" text-anchor="start" >CFT073<tspan font-style="italic" font-size="9.9"><tspan fill="#444">Δ</tspan>tcpC</tspan></text>
<text x="624.00" y="313.50" font-size="9.6" text-anchor="start" >+p<tspan font-style="italic" font-size="9.9">TcpC</tspan></text>
<text x="624.00" y="329.90" font-size="9.6" text-anchor="start" >LPS+ATP</text>
<text x="624.00" y="345.90" font-size="9.6" text-anchor="start" >medium</text>
</g>
<g id="panel-E">
<rect x="61.00" y="577.40" width="2.90" height="1.40" fill="#000" stroke="#000" stroke-width="1.0"/>
<rect x="66.22" y="577.30" width="3.25" height="1.50" fill="#fff" stroke="#000" stroke-width="0.8"/>
<rect x="71.80" y="577.40" width="2.90" height="1.40" fill="#8c8c8c" stroke="#000" stroke-width="1.0"/>
<rect x="77.12" y="577.40" width="3.05" height="1.40" fill="#fff"/>
<path d="M78.54 578.80L80.17 577.41" stroke="#000" stroke-width="0.85" fill="none"/>
<rect x="77.12" y="577.40" width="3.05" height="1.40" fill="none" stroke="#000" stroke-width="0.85"/>
<rect x="82.52" y="577.40" width="3.05" height="1.40" fill="#fff"/>
<path d="M84.16 578.80L82.52 577.41" stroke="#000" stroke-width="0.85" fill="none"/>
<rect x="82.52" y="577.40" width="3.05" height="1.40" fill="none" stroke="#000" stroke-width="0.85"/>
<rect x="91.10" y="577.40" width="2.90" height="1.40" fill="#000" stroke="#000" stroke-width="1.0"/>
<rect x="96.32" y="577.30" width="3.25" height="1.50" fill="#fff" stroke="#000" stroke-width="0.8"/>
<rect x="101.90" y="577.40" width="2.90" height="1.40" fill="#8c8c8c" stroke="#000" stroke-width="1.0"/>
<path d="M108.75 575.00V573.60M107.65 573.90H109.85" stroke="#000" stroke-width="0.85" fill="none"/>
<rect x="107.22" y="575.50" width="3.05" height="3.30" fill="#fff"/>
<path d="M107.22 578.10L110.27 575.51M109.46 578.80L110.27 578.11" stroke="#000" stroke-width="0.85" fill="none"/>
<rect x="107.22" y="575.50" width="3.05" height="3.30" fill="none" stroke="#000" stroke-width="0.85"/>
<rect x="112.62" y="577.40" width="3.05" height="1.40" fill="#fff"/>
<path d="M114.26 578.80L112.62 577.41" stroke="#000" stroke-width="0.85" fill="none"/>
<rect x="112.62" y="577.40" width="3.05" height="1.40" fill="none" stroke="#000" stroke-width="0.85"/>
<rect x="121.20" y="575.40" width="2.90" height="3.40" fill="#000" stroke="#000" stroke-width="1.0"/>
<rect x="126.43" y="576.80" width="3.25" height="2.00" fill="#fff" stroke="#000" stroke-width="0.8"/>
<rect x="132.00" y="575.10" width="2.90" height="3.70" fill="#8c8c8c" stroke="#000" stroke-width="1.0"/>
<path d="M138.85 549.90V543.10M137.75 543.40H139.95" stroke="#000" stroke-width="0.85" fill="none"/>
<rect x="137.33" y="550.40" width="3.05" height="28.40" fill="#fff"/>
<path d="M137.33 553.00L140.38 550.41M137.33 555.60L140.38 553.01M137.33 558.20L140.38 555.61M137.33 560.80L140.38 558.21M137.33 563.40L140.38 560.81M137.33 566.00L140.38 563.41M137.33 568.60L140.38 566.01M137.33 571.20L140.38 568.61M137.33 573.80L140.38 571.21M137.33 576.40L140.38 573.81M137.56 578.80L140.38 576.41" stroke="#000" stroke-width="0.85" fill="none"/>
<rect x="137.33" y="550.40" width="3.05" height="28.40" fill="none" stroke="#000" stroke-width="0.85"/>
<rect x="142.73" y="577.40" width="3.05" height="1.40" fill="#fff"/>
<path d="M144.36 578.80L142.73 577.41" stroke="#000" stroke-width="0.85" fill="none"/>
<rect x="142.73" y="577.40" width="3.05" height="1.40" fill="none" stroke="#000" stroke-width="0.85"/>
<path d="M152.75 565.50V563.40M151.65 563.70H153.85" stroke="#000" stroke-width="0.85" fill="none"/>
<rect x="151.30" y="566.00" width="2.90" height="12.80" fill="#000" stroke="#000" stroke-width="1.0"/>
<path d="M158.15 575.10V572.90M157.05 573.20H159.25" stroke="#000" stroke-width="0.85" fill="none"/>
<rect x="156.53" y="575.50" width="3.25" height="3.30" fill="#fff" stroke="#000" stroke-width="0.8"/>
<path d="M163.55 558.00V556.30M162.45 556.60H164.65" stroke="#000" stroke-width="0.85" fill="none"/>
<rect x="162.10" y="558.50" width="2.90" height="20.30" fill="#8c8c8c" stroke="#000" stroke-width="1.0"/>
<path d="M168.95 510.10V490.90M167.85 491.20H170.05" stroke="#000" stroke-width="0.85" fill="none"/>
<rect x="167.43" y="510.60" width="3.05" height="68.20" fill="#fff"/>
<path d="M167.43 513.20L170.48 510.61M167.43 515.80L170.48 513.21M167.43 518.40L170.48 515.81M167.43 521.00L170.48 518.41M167.43 523.60L170.48 521.01M167.43 526.20L170.48 523.61M167.43 528.80L170.48 526.21M167.43 531.40L170.48 528.81M167.43 534.00L170.48 531.41M167.43 536.60L170.48 534.01M167.43 539.20L170.48 536.61M167.43 541.80L170.48 539.21M167.43 544.40L170.48 541.81M167.43 547.00L170.48 544.41M167.43 549.60L170.48 547.01M167.43 552.20L170.48 549.61M167.43 554.80L170.48 552.21M167.43 557.40L170.48 554.81M167.43 560.00L170.48 557.41M167.43 562.60L170.48 560.01M167.43 565.20L170.48 562.61M167.43 567.80L170.48 565.21M167.43 570.40L170.48 567.81M167.43 573.00L170.48 570.41M167.43 575.60L170.48 573.01M167.43 578.20L170.48 575.61M169.78 578.80L170.48 578.21" stroke="#000" stroke-width="0.85" fill="none"/>
<rect x="167.43" y="510.60" width="3.05" height="68.20" fill="none" stroke="#000" stroke-width="0.85"/>
<rect x="172.83" y="577.40" width="3.05" height="1.40" fill="#fff"/>
<path d="M174.46 578.80L172.83 577.41" stroke="#000" stroke-width="0.85" fill="none"/>
<rect x="172.83" y="577.40" width="3.05" height="1.40" fill="none" stroke="#000" stroke-width="0.85"/>
<path d="M182.85 564.00V560.40M181.75 560.70H183.95" stroke="#000" stroke-width="0.85" fill="none"/>
<rect x="181.40" y="564.50" width="2.90" height="14.30" fill="#000" stroke="#000" stroke-width="1.0"/>
<path d="M188.25 574.40V572.30M187.15 572.60H189.35" stroke="#000" stroke-width="0.85" fill="none"/>
<rect x="186.62" y="574.80" width="3.25" height="4.00" fill="#fff" stroke="#000" stroke-width="0.8"/>
<path d="M193.65 555.30V552.10M192.55 552.40H194.75" stroke="#000" stroke-width="0.85" fill="none"/>
<rect x="192.20" y="555.80" width="2.90" height="23.00" fill="#8c8c8c" stroke="#000" stroke-width="1.0"/>
<rect x="202.93" y="577.40" width="3.05" height="1.40" fill="#fff"/>
<path d="M204.56 578.80L202.93 577.41" stroke="#000" stroke-width="0.85" fill="none"/>
<rect x="202.93" y="577.40" width="3.05" height="1.40" fill="none" stroke="#000" stroke-width="0.85"/>
<path d="M212.95 564.00V560.40M211.85 560.70H214.05" stroke="#000" stroke-width="0.85" fill="none"/>
<rect x="211.50" y="564.50" width="2.90" height="14.30" fill="#000" stroke="#000" stroke-width="1.0"/>
<path d="M218.35 574.60V572.30M217.25 572.60H219.45" stroke="#000" stroke-width="0.85" fill="none"/>
<rect x="216.72" y="575.00" width="3.25" height="3.80" fill="#fff" stroke="#000" stroke-width="0.8"/>
<path d="M223.75 555.30V551.20M222.65 551.50H224.85" stroke="#000" stroke-width="0.85" fill="none"/>
<rect x="222.30" y="555.80" width="2.90" height="23.00" fill="#8c8c8c" stroke="#000" stroke-width="1.0"/>
<rect x="227.62" y="486.70" width="3.05" height="92.10" fill="#fff"/>
<path d="M227.62 489.30L230.68 486.71M227.62 491.90L230.68 489.31M227.62 494.50L230.68 491.91M227.62 497.10L230.68 494.51M227.62 499.70L230.68 497.11M227.62 502.30L230.68 499.71M227.62 504.90L230.68 502.31M227.62 507.50L230.68 504.91M227.62 510.10L230.68 507.51M227.62 512.70L230.68 510.11M227.62 515.30L230.68 512.71M227.62 517.90L230.68 515.31M227.62 520.50L230.68 517.91M227.62 523.10L230.68 520.51M227.62 525.70L230.68 523.11M227.62 528.30L230.68 525.71M227.62 530.90L230.68 528.31M227.62 533.50L230.68 530.91M227.62 536.10L230.68 533.51M227.62 538.70L230.68 536.11M227.62 541.30L230.68 538.71M227.62 543.90L230.68 541.31M227.62 546.50L230.68 543.91M227.62 549.10L230.68 546.51M227.62 551.70L230.68 549.11M227.62 554.30L230.68 551.71M227.62 556.90L230.68 554.31M227.62 559.50L230.68 556.91M227.62 562.10L230.68 559.51M227.62 564.70L230.68 562.11M227.62 567.30L230.68 564.71M227.62 569.90L230.68 567.31M227.62 572.50L230.68 569.91M227.62 575.10L230.68 572.51M227.62 577.70L230.68 575.11M229.39 578.80L230.68 577.71" stroke="#000" stroke-width="0.85" fill="none"/>
<rect x="227.62" y="486.70" width="3.05" height="92.10" fill="none" stroke="#000" stroke-width="0.85"/>
<rect x="233.03" y="577.40" width="3.05" height="1.40" fill="#fff"/>
<path d="M234.66 578.80L233.03 577.41" stroke="#000" stroke-width="0.85" fill="none"/>
<rect x="233.03" y="577.40" width="3.05" height="1.40" fill="none" stroke="#000" stroke-width="0.85"/>
<path d="M59.70 459.75V578.80H239.00" stroke="#000" stroke-width="1.5" fill="none" stroke-linejoin="miter"/>
<path d="M54.50 578.80H59.70" stroke="#000" stroke-width="1.5"/>
<text x="53.20" y="581.65" font-size="8.9" text-anchor="end" >0</text>
<path d="M54.50 555.14H59.70" stroke="#000" stroke-width="1.5"/>
<text x="53.20" y="557.99" font-size="8.9" text-anchor="end" >100</text>
<path d="M54.50 531.48H59.70" stroke="#000" stroke-width="1.5"/>
<text x="53.20" y="534.33" font-size="8.9" text-anchor="end" >200</text>
<path d="M54.50 507.82H59.70" stroke="#000" stroke-width="1.5"/>
<text x="53.20" y="510.67" font-size="8.9" text-anchor="end" >300</text>
<path d="M54.50 484.16H59.70" stroke="#000" stroke-width="1.5"/>
<text x="53.20" y="487.01" font-size="8.9" text-anchor="end" >400</text>
<path d="M54.50 460.50H59.70" stroke="#000" stroke-width="1.5"/>
<text x="53.20" y="463.35" font-size="8.9" text-anchor="end" >500</text>
<path d="M73.10 578.80V584.00" stroke="#000" stroke-width="1.5"/>
<text x="73.10" y="593.10" font-size="8.9" text-anchor="middle" >1</text>
<path d="M103.20 578.80V584.00" stroke="#000" stroke-width="1.5"/>
<text x="103.20" y="593.10" font-size="8.9" text-anchor="middle" >2</text>
<path d="M133.30 578.80V584.00" stroke="#000" stroke-width="1.5"/>
<text x="133.30" y="593.10" font-size="8.9" text-anchor="middle" >3</text>
<path d="M163.40 578.80V584.00" stroke="#000" stroke-width="1.5"/>
<text x="163.40" y="593.10" font-size="8.9" text-anchor="middle" >4</text>
<path d="M193.50 578.80V584.00" stroke="#000" stroke-width="1.5"/>
<text x="193.50" y="593.10" font-size="8.9" text-anchor="middle" >5</text>
<path d="M223.60 578.80V584.00" stroke="#000" stroke-width="1.5"/>
<text x="223.60" y="593.10" font-size="8.9" text-anchor="middle" >6</text>
<text x="148.35" y="607.50" font-size="9.7" text-anchor="middle" >time (h)</text>
<text x="107.80" y="445.20" font-size="11.2" text-anchor="start" >M1 macrophage</text>
<text transform="translate(19.90 520.15) rotate(-90)" font-size="9.7" text-anchor="middle">IL-6 [pg/ml]</text>
<text x="0.10" y="436.40" font-size="16" text-anchor="start" >E</text>
<rect x="252.00" y="465.85" width="12.4" height="5.6" fill="#000" stroke="#000" stroke-width="0.8"/>
<rect x="252.00" y="482.15" width="12.4" height="5.6" fill="#fff" stroke="#000" stroke-width="0.8"/>
<rect x="252.00" y="505.15" width="12.4" height="5.6" fill="#8c8c8c" stroke="#000" stroke-width="0.8"/>
<rect x="252.00" y="527.75" width="12.4" height="5.6" fill="#fff"/>
<path d="M252.00 530.57L253.88 527.75M252.43 533.35L256.16 527.75M254.71 533.35L258.44 527.75M256.99 533.35L260.72 527.75M259.27 533.35L263.00 527.75M261.55 533.35L264.40 529.07M263.83 533.35L264.40 532.49" stroke="#000" stroke-width="0.85" fill="none"/>
<rect x="252.00" y="527.75" width="12.4" height="5.6" fill="none" stroke="#000" stroke-width="0.8"/>
<rect x="252.00" y="543.75" width="12.4" height="5.6" fill="#fff"/>
<path d="M264.40 546.57L262.52 543.75M263.97 549.35L260.24 543.75M261.69 549.35L257.96 543.75M259.41 549.35L255.68 543.75M257.13 549.35L253.40 543.75M254.85 549.35L252.00 545.07M252.57 549.35L252.00 548.49" stroke="#000" stroke-width="0.85" fill="none"/>
<rect x="252.00" y="543.75" width="12.4" height="5.6" fill="none" stroke="#000" stroke-width="0.8"/>
<text x="272.00" y="472.00" font-size="9.6" text-anchor="start" >CFT073</text>
<text x="272.00" y="488.30" font-size="9.6" text-anchor="start" >CFT073<tspan font-style="italic" font-size="9.9"><tspan fill="#444">Δ</tspan>tcpC</tspan></text>
<text x="272.00" y="505.30" font-size="9.6" text-anchor="start" >CFT073<tspan font-style="italic" font-size="9.9"><tspan fill="#444">Δ</tspan>tcpC</tspan></text>
<text x="272.00" y="517.50" font-size="9.6" text-anchor="start" >+p<tspan font-style="italic" font-size="9.9">TcpC</tspan></text>
<text x="272.00" y="533.90" font-size="9.6" text-anchor="start" >LPS+ATP</text>
<text x="272.00" y="549.90" font-size="9.6" text-anchor="start" >medium</text>
<path d="M153.20 557.40V555.20H158.50V557.40" stroke="#000" stroke-width="0.75" fill="none"/>
<text x="153.50 157.10" y="556.76" font-size="9.2" text-anchor="middle" stroke="#000" stroke-width="0.25">**</text>
<path d="M158.60 547.40V545.20H164.00V547.40" stroke="#000" stroke-width="0.75" fill="none"/>
<text x="154.50 158.50 162.60 166.70" y="546.97" font-size="9.2" text-anchor="middle" stroke="#000" stroke-width="0.25">****</text>
<path d="M153.20 537.70V535.50H164.30V537.70" stroke="#000" stroke-width="0.75" fill="none"/>
<text x="158.60" y="536.97" font-size="9.2" text-anchor="middle" stroke="#000" stroke-width="0.25">*</text>
<path d="M183.20 552.70V550.50H188.70V552.70" stroke="#000" stroke-width="0.75" fill="none"/>
<text x="181.80 186.00 190.10" y="551.56" font-size="9.2" text-anchor="middle" stroke="#000" stroke-width="0.25">***</text>
<path d="M188.70 541.90V539.70H194.00V541.90" stroke="#000" stroke-width="0.75" fill="none"/>
<text x="184.50 188.90 193.20 197.60" y="541.37" font-size="9.2" text-anchor="middle" stroke="#000" stroke-width="0.25">****</text>
<path d="M183.20 531.50V529.20H194.20V531.50" stroke="#000" stroke-width="0.75" fill="none"/>
<text x="186.40 190.60" y="530.87" font-size="9.2" text-anchor="middle" stroke="#000" stroke-width="0.25">**</text>
<path d="M212.50 555.90V553.50H218.10V555.90" stroke="#000" stroke-width="0.75" fill="none"/>
<text x="211.40 215.50 219.60" y="555.37" font-size="9.2" text-anchor="middle" stroke="#000" stroke-width="0.25">***</text>
<path d="M218.30 544.80V542.60H223.70V544.80" stroke="#000" stroke-width="0.75" fill="none"/>
<text x="214.60 218.90 223.20 227.40" y="543.97" font-size="9.2" text-anchor="middle" stroke="#000" stroke-width="0.25">****</text>
<path d="M212.80 533.80V531.60H223.70V533.80" stroke="#000" stroke-width="0.75" fill="none"/>
<text x="216.60 220.80" y="532.76" font-size="9.2" text-anchor="middle" stroke="#000" stroke-width="0.25">**</text>
</g>
<g id="panel-F">
<rect x="412.31" y="563.90" width="2.90" height="14.50" fill="#000" stroke="#000" stroke-width="1.0"/>
<rect x="417.41" y="563.80" width="3.25" height="14.60" fill="#fff" stroke="#000" stroke-width="0.8"/>
<rect x="422.85" y="563.90" width="2.90" height="14.50" fill="#8c8c8c" stroke="#000" stroke-width="1.0"/>
<rect x="428.05" y="563.90" width="3.05" height="14.50" fill="#fff"/>
<path d="M428.05 566.50L431.10 563.91M428.05 569.10L431.10 566.51M428.05 571.70L431.10 569.11M428.05 574.30L431.10 571.71M428.05 576.90L431.10 574.31M429.34 578.40L431.10 576.91" stroke="#000" stroke-width="0.85" fill="none"/>
<rect x="428.05" y="563.90" width="3.05" height="14.50" fill="none" stroke="#000" stroke-width="0.85"/>
<rect x="433.32" y="563.90" width="3.05" height="14.50" fill="#fff"/>
<path d="M436.37 566.50L433.32 563.91M436.37 569.10L433.32 566.51M436.37 571.70L433.32 569.11M436.37 574.30L433.32 571.71M436.37 576.90L433.32 574.31M435.07 578.40L433.32 576.91" stroke="#000" stroke-width="0.85" fill="none"/>
<rect x="433.32" y="563.90" width="3.05" height="14.50" fill="none" stroke="#000" stroke-width="0.85"/>
<rect x="442.15" y="563.90" width="2.90" height="14.50" fill="#000" stroke="#000" stroke-width="1.0"/>
<rect x="447.25" y="563.80" width="3.25" height="14.60" fill="#fff" stroke="#000" stroke-width="0.8"/>
<rect x="452.69" y="563.90" width="2.90" height="14.50" fill="#8c8c8c" stroke="#000" stroke-width="1.0"/>
<rect x="457.88" y="563.90" width="3.05" height="14.50" fill="#fff"/>
<path d="M457.88 566.50L460.94 563.91M457.88 569.10L460.94 566.51M457.88 571.70L460.94 569.11M457.88 574.30L460.94 571.71M457.88 576.90L460.94 574.31M459.18 578.40L460.94 576.91" stroke="#000" stroke-width="0.85" fill="none"/>
<rect x="457.88" y="563.90" width="3.05" height="14.50" fill="none" stroke="#000" stroke-width="0.85"/>
<rect x="463.16" y="563.90" width="3.05" height="14.50" fill="#fff"/>
<path d="M466.21 566.50L463.16 563.91M466.21 569.10L463.16 566.51M466.21 571.70L463.16 569.11M466.21 574.30L463.16 571.71M466.21 576.90L463.16 574.31M464.91 578.40L463.16 576.91" stroke="#000" stroke-width="0.85" fill="none"/>
<rect x="463.16" y="563.90" width="3.05" height="14.50" fill="none" stroke="#000" stroke-width="0.85"/>
<rect x="471.99" y="563.90" width="2.90" height="14.50" fill="#000" stroke="#000" stroke-width="1.0"/>
<rect x="477.09" y="563.80" width="3.25" height="14.60" fill="#fff" stroke="#000" stroke-width="0.8"/>
<rect x="482.53" y="563.90" width="2.90" height="14.50" fill="#8c8c8c" stroke="#000" stroke-width="1.0"/>
<rect x="487.73" y="563.90" width="3.05" height="14.50" fill="#fff"/>
<path d="M487.73 566.50L490.78 563.91M487.73 569.10L490.78 566.51M487.73 571.70L490.78 569.11M487.73 574.30L490.78 571.71M487.73 576.90L490.78 574.31M489.02 578.40L490.78 576.91" stroke="#000" stroke-width="0.85" fill="none"/>
<rect x="487.73" y="563.90" width="3.05" height="14.50" fill="none" stroke="#000" stroke-width="0.85"/>
<rect x="493.00" y="563.90" width="3.05" height="14.50" fill="#fff"/>
<path d="M496.05 566.50L493.00 563.91M496.05 569.10L493.00 566.51M496.05 571.70L493.00 569.11M496.05 574.30L493.00 571.71M496.05 576.90L493.00 574.31M494.75 578.40L493.00 576.91" stroke="#000" stroke-width="0.85" fill="none"/>
<rect x="493.00" y="563.90" width="3.05" height="14.50" fill="none" stroke="#000" stroke-width="0.85"/>
<rect x="501.83" y="563.90" width="2.90" height="14.50" fill="#000" stroke="#000" stroke-width="1.0"/>
<rect x="506.93" y="563.80" width="3.25" height="14.60" fill="#fff" stroke="#000" stroke-width="0.8"/>
<rect x="512.37" y="563.90" width="2.90" height="14.50" fill="#8c8c8c" stroke="#000" stroke-width="1.0"/>
<path d="M519.09 549.00V539.70M517.99 540.00H520.19" stroke="#000" stroke-width="0.85" fill="none"/>
<rect x="517.57" y="549.50" width="3.05" height="28.90" fill="#fff"/>
<path d="M517.57 552.10L520.62 549.51M517.57 554.70L520.62 552.11M517.57 557.30L520.62 554.71M517.57 559.90L520.62 557.31M517.57 562.50L520.62 559.91M517.57 565.10L520.62 562.51M517.57 567.70L520.62 565.11M517.57 570.30L520.62 567.71M517.57 572.90L520.62 570.31M517.57 575.50L520.62 572.91M517.57 578.10L520.62 575.51M520.27 578.40L520.62 578.11" stroke="#000" stroke-width="0.85" fill="none"/>
<rect x="517.57" y="549.50" width="3.05" height="28.90" fill="none" stroke="#000" stroke-width="0.85"/>
<rect x="522.84" y="563.90" width="3.05" height="14.50" fill="#fff"/>
<path d="M525.88 566.50L522.84 563.91M525.88 569.10L522.84 566.51M525.88 571.70L522.84 569.11M525.88 574.30L522.84 571.71M525.88 576.90L522.84 574.31M524.59 578.40L522.84 576.91" stroke="#000" stroke-width="0.85" fill="none"/>
<rect x="522.84" y="563.90" width="3.05" height="14.50" fill="none" stroke="#000" stroke-width="0.85"/>
<rect x="531.67" y="563.90" width="2.90" height="14.50" fill="#000" stroke="#000" stroke-width="1.0"/>
<rect x="536.76" y="563.80" width="3.25" height="14.60" fill="#fff" stroke="#000" stroke-width="0.8"/>
<rect x="542.21" y="563.90" width="2.90" height="14.50" fill="#8c8c8c" stroke="#000" stroke-width="1.0"/>
<path d="M548.93 498.00V492.40M547.83 492.70H550.03" stroke="#000" stroke-width="0.85" fill="none"/>
<rect x="547.40" y="498.50" width="3.05" height="79.90" fill="#fff"/>
<path d="M547.40 501.10L550.45 498.51M547.40 503.70L550.45 501.11M547.40 506.30L550.45 503.71M547.40 508.90L550.45 506.31M547.40 511.50L550.45 508.91M547.40 514.10L550.45 511.51M547.40 516.70L550.45 514.11M547.40 519.30L550.45 516.71M547.40 521.90L550.45 519.31M547.40 524.50L550.45 521.91M547.40 527.10L550.45 524.51M547.40 529.70L550.45 527.11M547.40 532.30L550.45 529.71M547.40 534.90L550.45 532.31M547.40 537.50L550.45 534.91M547.40 540.10L550.45 537.51M547.40 542.70L550.45 540.11M547.40 545.30L550.45 542.71M547.40 547.90L550.45 545.31M547.40 550.50L550.45 547.91M547.40 553.10L550.45 550.51M547.40 555.70L550.45 553.11M547.40 558.30L550.45 555.71M547.40 560.90L550.45 558.31M547.40 563.50L550.45 560.91M547.40 566.10L550.45 563.51M547.40 568.70L550.45 566.11M547.40 571.30L550.45 568.71M547.40 573.90L550.45 571.31M547.40 576.50L550.45 573.91M548.23 578.40L550.45 576.51" stroke="#000" stroke-width="0.85" fill="none"/>
<rect x="547.40" y="498.50" width="3.05" height="79.90" fill="none" stroke="#000" stroke-width="0.85"/>
<rect x="552.67" y="563.90" width="3.05" height="14.50" fill="#fff"/>
<path d="M555.72 566.50L552.67 563.91M555.72 569.10L552.67 566.51M555.72 571.70L552.67 569.11M555.72 574.30L552.67 571.71M555.72 576.90L552.67 574.31M554.43 578.40L552.67 576.91" stroke="#000" stroke-width="0.85" fill="none"/>
<rect x="552.67" y="563.90" width="3.05" height="14.50" fill="none" stroke="#000" stroke-width="0.85"/>
<rect x="561.51" y="563.90" width="2.90" height="14.50" fill="#000" stroke="#000" stroke-width="1.0"/>
<rect x="566.61" y="563.80" width="3.25" height="14.60" fill="#fff" stroke="#000" stroke-width="0.8"/>
<rect x="572.05" y="563.90" width="2.90" height="14.50" fill="#8c8c8c" stroke="#000" stroke-width="1.0"/>
<path d="M578.77 539.70V528.00M577.67 528.30H579.87" stroke="#000" stroke-width="0.85" fill="none"/>
<rect x="577.25" y="540.20" width="3.05" height="38.20" fill="#fff"/>
<path d="M577.25 542.80L580.29 540.21M577.25 545.40L580.29 542.81M577.25 548.00L580.29 545.41M577.25 550.60L580.29 548.01M577.25 553.20L580.29 550.61M577.25 555.80L580.29 553.21M577.25 558.40L580.29 555.81M577.25 561.00L580.29 558.41M577.25 563.60L580.29 561.01M577.25 566.20L580.29 563.61M577.25 568.80L580.29 566.21M577.25 571.40L580.29 568.81M577.25 574.00L580.29 571.41M577.25 576.60L580.29 574.01M578.19 578.40L580.29 576.61" stroke="#000" stroke-width="0.85" fill="none"/>
<rect x="577.25" y="540.20" width="3.05" height="38.20" fill="none" stroke="#000" stroke-width="0.85"/>
<rect x="582.51" y="563.90" width="3.05" height="14.50" fill="#fff"/>
<path d="M585.56 566.50L582.51 563.91M585.56 569.10L582.51 566.51M585.56 571.70L582.51 569.11M585.56 574.30L582.51 571.71M585.56 576.90L582.51 574.31M584.27 578.40L582.51 576.91" stroke="#000" stroke-width="0.85" fill="none"/>
<rect x="582.51" y="563.90" width="3.05" height="14.50" fill="none" stroke="#000" stroke-width="0.85"/>
<path d="M410.10 459.35V578.40H588.30" stroke="#000" stroke-width="1.5" fill="none" stroke-linejoin="miter"/>
<path d="M404.90 578.40H410.10" stroke="#000" stroke-width="1.5"/>
<text x="403.60" y="581.25" font-size="8.9" text-anchor="end" >0</text>
<path d="M404.90 548.83H410.10" stroke="#000" stroke-width="1.5"/>
<text x="403.60" y="551.68" font-size="8.9" text-anchor="end" >20</text>
<path d="M404.90 519.25H410.10" stroke="#000" stroke-width="1.5"/>
<text x="403.60" y="522.10" font-size="8.9" text-anchor="end" >40</text>
<path d="M404.90 489.68H410.10" stroke="#000" stroke-width="1.5"/>
<text x="403.60" y="492.53" font-size="8.9" text-anchor="end" >60</text>
<path d="M404.90 460.10H410.10" stroke="#000" stroke-width="1.5"/>
<text x="403.60" y="462.95" font-size="8.9" text-anchor="end" >80</text>
<path d="M424.20 578.40V583.60" stroke="#000" stroke-width="1.5"/>
<text x="424.20" y="592.70" font-size="8.9" text-anchor="middle" >1</text>
<path d="M454.04 578.40V583.60" stroke="#000" stroke-width="1.5"/>
<text x="454.04" y="592.70" font-size="8.9" text-anchor="middle" >2</text>
<path d="M483.88 578.40V583.60" stroke="#000" stroke-width="1.5"/>
<text x="483.88" y="592.70" font-size="8.9" text-anchor="middle" >3</text>
<path d="M513.72 578.40V583.60" stroke="#000" stroke-width="1.5"/>
<text x="513.72" y="592.70" font-size="8.9" text-anchor="middle" >4</text>
<path d="M543.56 578.40V583.60" stroke="#000" stroke-width="1.5"/>
<text x="543.56" y="592.70" font-size="8.9" text-anchor="middle" >5</text>
<path d="M573.40 578.40V583.60" stroke="#000" stroke-width="1.5"/>
<text x="573.40" y="592.70" font-size="8.9" text-anchor="middle" >6</text>
<text x="498.80" y="607.10" font-size="9.7" text-anchor="middle" >time (h)</text>
<text x="459.00" y="445.20" font-size="11.2" text-anchor="start" >M2 macrophage</text>
<text transform="translate(375.70 519.75) rotate(-90)" font-size="9.7" text-anchor="middle">IL-6 [pg/ml]</text>
<text x="344.40" y="436.50" font-size="16" text-anchor="start" >F</text>
<rect x="601.90" y="465.85" width="12.4" height="5.6" fill="#000" stroke="#000" stroke-width="0.8"/>
<rect x="601.90" y="482.15" width="12.4" height="5.6" fill="#fff" stroke="#000" stroke-width="0.8"/>
<rect x="601.90" y="505.15" width="12.4" height="5.6" fill="#8c8c8c" stroke="#000" stroke-width="0.8"/>
<rect x="601.90" y="527.75" width="12.4" height="5.6" fill="#fff"/>
<path d="M601.90 530.57L603.78 527.75M602.33 533.35L606.06 527.75M604.61 533.35L608.34 527.75M606.89 533.35L610.62 527.75M609.17 533.35L612.90 527.75M611.45 533.35L614.30 529.07M613.73 533.35L614.30 532.49" stroke="#000" stroke-width="0.85" fill="none"/>
<rect x="601.90" y="527.75" width="12.4" height="5.6" fill="none" stroke="#000" stroke-width="0.8"/>
<rect x="601.90" y="543.75" width="12.4" height="5.6" fill="#fff"/>
<path d="M614.30 546.57L612.42 543.75M613.87 549.35L610.14 543.75M611.59 549.35L607.86 543.75M609.31 549.35L605.58 543.75M607.03 549.35L603.30 543.75M604.75 549.35L601.90 545.07M602.47 549.35L601.90 548.49" stroke="#000" stroke-width="0.85" fill="none"/>
<rect x="601.90" y="543.75" width="12.4" height="5.6" fill="none" stroke="#000" stroke-width="0.8"/>
<text x="621.50" y="472.00" font-size="9.6" text-anchor="start" >CFT073</text>
<text x="621.50" y="488.30" font-size="9.6" text-anchor="start" >CFT073<tspan font-style="italic" font-size="9.9"><tspan fill="#444">Δ</tspan>tcpC</tspan></text>
<text x="621.50" y="505.30" font-size="9.6" text-anchor="start" >CFT073<tspan font-style="italic" font-size="9.9"><tspan fill="#444">Δ</tspan>tcpC</tspan></text>
<text x="621.50" y="517.50" font-size="9.6" text-anchor="start" >+p<tspan font-style="italic" font-size="9.9">TcpC</tspan></text>
<text x="621.50" y="533.90" font-size="9.6" text-anchor="start" >LPS+ATP</text>
<text x="621.50" y="549.90" font-size="9.6" text-anchor="start" >medium</text>
</g>
</svg></body></html>
